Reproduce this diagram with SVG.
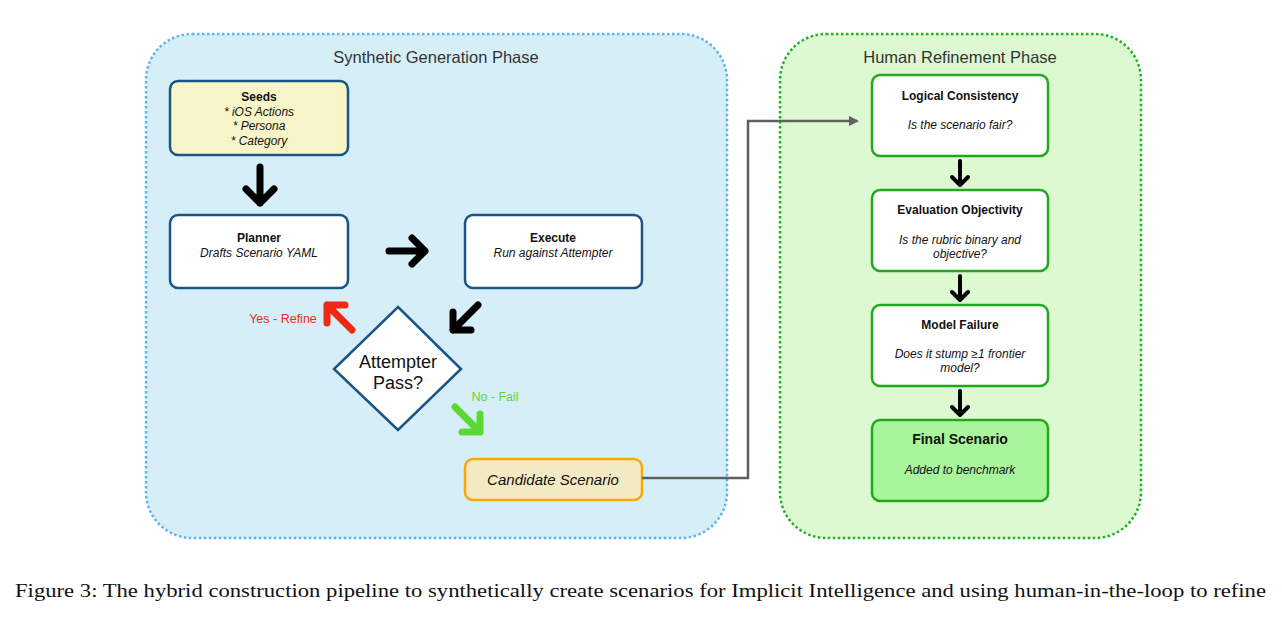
<svg xmlns="http://www.w3.org/2000/svg" width="1282" height="618" viewBox="0 0 1282 618">
<style>
text{font-family:"Liberation Sans",Arial,Helvetica,sans-serif;fill:#111;text-anchor:middle}
.title{font-size:16.5px;fill:#333}
.b{font-weight:bold;font-size:12px}
.i{font-style:italic;font-size:12px}
.box{fill:#fff;stroke:#1a5587;stroke-width:2.5}
.gbox{fill:#fff;stroke:#22a81c;stroke-width:2.5}
.ar{fill:none;stroke:#000;stroke-width:7;stroke-linecap:round;stroke-linejoin:round}
.ars{fill:none;stroke:#000;stroke-width:4;stroke-linecap:round;stroke-linejoin:round}
.cap{font-family:"Liberation Serif","Times New Roman",serif;font-size:19px;text-anchor:start}
</style>
<defs>
<marker id="tri" markerWidth="10" markerHeight="10" refX="8" refY="5" orient="auto" markerUnits="userSpaceOnUse">
<path d="M0,0 L10,5 L0,10 Z" fill="#606060"/>
</marker>
</defs>
<rect width="1282" height="618" fill="#fff"/>
<g id="panel-synthetic">
<rect x="146" y="34" width="581" height="504" rx="46" fill="#d6eef8" stroke="#5ab4f2" stroke-width="2.5" stroke-dasharray="2.5 2.5"/>
<text class="title" x="436" y="63">Synthetic Generation Phase</text>
</g>
<g id="panel-human">
<rect x="780" y="34" width="361" height="504" rx="46" fill="#dcf9d2" stroke="#1db31d" stroke-width="2.5" stroke-dasharray="2.5 2.5"/>
<text class="title" x="960" y="63">Human Refinement Phase</text>
</g>
<g id="seeds">
<rect x="170" y="81" width="178" height="74" rx="8" fill="#f8f6c8" stroke="#1a5587" stroke-width="2.5"/>
<text class="b" x="259" y="101">Seeds</text>
<text class="i" x="259" y="116">* iOS Actions</text>
<text class="i" x="259" y="130">* Persona</text>
<text class="i" x="259" y="145">* Category</text>
</g>
<g id="planner">
<rect class="box" x="170" y="215" width="178" height="73" rx="8"/>
<text class="b" x="259" y="242">Planner</text>
<text class="i" x="259" y="257">Drafts Scenario YAML</text>
</g>
<g id="execute">
<rect class="box" x="465" y="215" width="177" height="73" rx="8"/>
<text class="b" x="553" y="242">Execute</text>
<text class="i" x="553" y="257">Run against Attempter</text>
</g>
<g id="decision">
<polygon points="398,307 461,369 398,430 334,369" fill="#fff" stroke="#1a5587" stroke-width="2.5"/>
<text x="398" y="368" style="font-size:18px">Attempter</text>
<text x="398" y="389" style="font-size:18px">Pass?</text>
</g>
<g id="candidate">
<rect x="465" y="459" width="177" height="41" rx="8" fill="#f3eac4" stroke="#f7aa00" stroke-width="2.5"/>
<text x="553" y="485" style="font-size:15px;font-style:italic">Candidate Scenario</text>
</g>
<g id="logical">
<rect class="gbox" x="872" y="75" width="176" height="81" rx="8"/>
<text class="b" x="960" y="100">Logical Consistency</text>
<text class="i" x="960" y="129">Is the scenario fair?</text>
</g>
<g id="evaluation">
<rect class="gbox" x="872" y="190" width="176" height="81" rx="8"/>
<text class="b" x="960" y="214">Evaluation Objectivity</text>
<text class="i" x="960" y="244">Is the rubric binary and</text>
<text class="i" x="960" y="258">objective?</text>
</g>
<g id="model-failure">
<rect class="gbox" x="872" y="305" width="176" height="81" rx="8"/>
<text class="b" x="960" y="329">Model Failure</text>
<text class="i" x="960" y="358">Does it stump ≥1 frontier</text>
<text class="i" x="960" y="372">model?</text>
</g>
<g id="final">
<rect x="872" y="420" width="176" height="81" rx="8" fill="#a9f59c" stroke="#22a81c" stroke-width="2.5"/>
<text x="960" y="444" style="font-size:14px;font-weight:bold">Final Scenario</text>
<text class="i" x="960" y="474">Added to benchmark</text>
</g>
<g id="connectors">
<path class="ar" d="M260,167 L260,203 M246,189 L260,203 L274,189"/>
<path class="ar" d="M389,251 L425,251 M412,238 L425,251 L412,264"/>
<path class="ar" d="M478,305 L453,330 M453,312 L453,330 L471,330"/>
<path class="ar" d="M352,330 L327,305 M327,323 L327,305 L345,305" style="stroke:#ee2a12"/>
<path class="ar" d="M455,407 L480,432 M480,414 L480,432 L462,432" style="stroke:#5ad935"/>
<text x="283" y="323" style="font-size:12.5px;fill:#ee2a12">Yes - Refine</text>
<text x="495" y="401" style="font-size:12.5px;fill:#5ad935">No - Fail</text>
<path class="ars" d="M960,161 L960,185 M952,177 L960,185 L968,177"/>
<path class="ars" d="M960,276 L960,300 M952,292 L960,300 L968,292"/>
<path class="ars" d="M960,391 L960,415 M952,407 L960,415 L968,407"/>
<path d="M642,478 L748,478 L748,121 L857,121" fill="none" stroke="#606060" stroke-width="2.5" marker-end="url(#tri)"/>
</g>
<text class="cap" x="15" y="597" textLength="1251" lengthAdjust="spacingAndGlyphs">Figure 3: The hybrid construction pipeline to synthetically create scenarios for Implicit Intelligence and using human-in-the-loop to refine</text>
</svg>
